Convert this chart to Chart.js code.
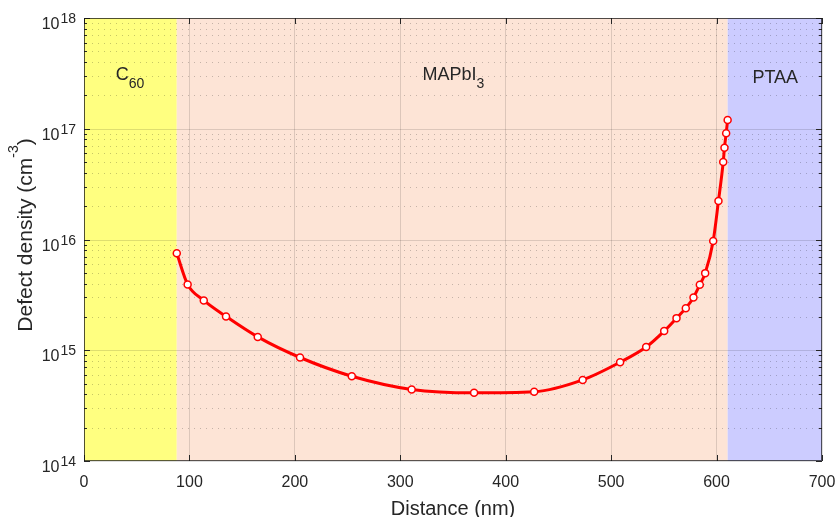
<!DOCTYPE html>
<html lang="en">
<head>
  <meta charset="UTF-8" />
  <title>Defect density profile</title>
  <style>
    body { margin: 0; background: #fff; }
    #wrap { width: 838px; height: 517px; }
  </style>
</head>
<body>
  <div id="wrap"><canvas id="defectChart" width="838" height="517"></canvas></div>

  <script src="https://cdn.jsdelivr.net/npm/chart.js"></script>
  <script>
    // defect profile (distance in nm, density in cm^-3)
    const distance = [88, 98.3, 113.6, 134.7, 164.8, 204.9, 254, 310.8, 370, 427, 473, 508.5,
      533.2, 550.3, 562, 570.8, 578.1, 584.1, 589.2, 596.8, 601.8, 606.3, 607.5, 609.1, 610.5];
    const density = [7.5e15, 3.93e15, 2.82e15, 2.02e15, 1.32e15, 8.6e14, 5.83e14, 4.43e14, 4.13e14, 4.22e14, 5.4e14, 7.8e14,
      1.07e15, 1.49e15, 1.95e15, 2.4e15, 3.0e15, 3.9e15, 4.97e15, 9.7e15, 2.23e16, 5.0e16, 6.74e16, 9.1e16, 1.2e17];

    // layers of the stack
    const layerName = ['C', 'MAPbI', 'PTAA'];
    const layerSub = ['60', '3', ''];
    const layerStart = [0, 88, 610.5];
    const layerEnd = [88, 610.5, 700];
    const layerLabelAt = [30, 321, 634];

    const xTicks = [0, 100, 200, 300, 400, 500, 600, 700];
    const yDecades = [14, 15, 16, 17, 18];

    const layerColors = ['#ffff80', '#fde4d6', '#ccccff'];
    const FONT = "'Liberation Sans', Arial, Helvetica, sans-serif";
    const TXT = '#262626';

    const stackPlugin = {
      id: 'stack',
      beforeDraw(chart) {
        const { ctx, chartArea: a, scales: { x } } = chart;
        ctx.save();
        layerStart.forEach((s, i) => {
          const x0 = x.getPixelForValue(s);
          const x1 = x.getPixelForValue(layerEnd[i]);
          ctx.fillStyle = layerColors[i];
          ctx.fillRect(x0, a.top, x1 - x0, a.bottom - a.top);
        });
        ctx.restore();
      },
      beforeDatasetsDraw(chart) {
        const { ctx, chartArea: a, scales: { x, y } } = chart;
        ctx.save();
        ctx.lineWidth = 1;

        // y grid, solid at decades and dotted in between
        for (let i = 0; i < yDecades.length; i++) {
          const e = yDecades[i];
          const py = Math.round(y.getPixelForValue(Math.pow(10, e))) + 0.5;
          ctx.setLineDash([]);
          ctx.strokeStyle = 'rgba(0,0,0,0.13)';
          ctx.beginPath(); ctx.moveTo(a.left, py); ctx.lineTo(a.right, py); ctx.stroke();
          if (i === yDecades.length - 1) continue;
          for (let m = 2; m <= 9; m++) {
            const my = Math.round(y.getPixelForValue(m * Math.pow(10, e))) + 0.5;
            ctx.setLineDash([1, 5]);
            ctx.strokeStyle = 'rgba(0,0,0,0.22)';
            ctx.beginPath(); ctx.moveTo(a.left + 2, my); ctx.lineTo(a.right, my); ctx.stroke();
            // minor ticks
            ctx.setLineDash([]);
            ctx.strokeStyle = TXT;
            ctx.beginPath();
            ctx.moveTo(a.left, my); ctx.lineTo(a.left + 3, my);
            ctx.moveTo(a.right, my); ctx.lineTo(a.right - 3, my);
            ctx.stroke();
          }
        }

        // major ticks, inward on all sides
        ctx.setLineDash([]);
        ctx.strokeStyle = TXT;
        ctx.beginPath();
        yDecades.forEach(e => {
          const py = Math.round(y.getPixelForValue(Math.pow(10, e))) + 0.5;
          ctx.moveTo(a.left, py); ctx.lineTo(a.left + 6, py);
          ctx.moveTo(a.right, py); ctx.lineTo(a.right - 6, py);
        });
        xTicks.forEach(v => {
          const px = Math.round(x.getPixelForValue(v)) + 0.5;
          ctx.moveTo(px, a.bottom); ctx.lineTo(px, a.bottom - 6);
          ctx.moveTo(px, a.top); ctx.lineTo(px, a.top + 6);
        });
        ctx.stroke();

        // axes box
        ctx.strokeStyle = 'rgba(20,20,20,0.7)';
        ctx.strokeRect(Math.round(a.left) + 0.5, Math.round(a.top) + 0.5,
          Math.round(a.right - a.left) - 1, Math.round(a.bottom - a.top) - 1);
        ctx.restore();
      },
      afterDraw(chart) {
        const { ctx, chartArea: a, scales: { x, y } } = chart;
        ctx.save();
        ctx.fillStyle = TXT;
        ctx.textAlign = 'left';
        ctx.textBaseline = 'alphabetic';

        // y tick labels 10^n
        yDecades.forEach(e => {
          const py = y.getPixelForValue(Math.pow(10, e));
          ctx.font = '14px ' + FONT;
          const w2 = ctx.measureText(String(e)).width;
          ctx.font = '16px ' + FONT;
          const w1 = ctx.measureText('10').width;
          const right = a.left - 8;
          ctx.fillText('10', right - w2 - w1 - 1, py + 11);
          ctx.font = '14px ' + FONT;
          ctx.fillText(String(e), right - w2, py + 5);
        });

        // x axis title
        ctx.font = '20px ' + FONT;
        ctx.textAlign = 'center';
        ctx.fillText('Distance (nm)', (a.left + a.right) / 2, 515);

        // y axis title with superscript
        ctx.save();
        ctx.translate(0, 235);
        ctx.rotate(-Math.PI / 2);
        ctx.textAlign = 'left';
        const p1 = 'Defect density (cm', sup = '-3', p2 = ')';
        ctx.font = '21px ' + FONT;
        const wA = ctx.measureText(p1).width, wC = ctx.measureText(p2).width;
        ctx.font = '14px ' + FONT;
        const wB = ctx.measureText(sup).width;
        let lx = -(wA + wB + wC) / 2;
        ctx.font = '21px ' + FONT;
        ctx.fillText(p1, lx, 32);
        ctx.font = '14px ' + FONT;
        ctx.fillText(sup, lx + wA, 18);
        ctx.font = '21px ' + FONT;
        ctx.fillText(p2, lx + wA + wB, 32);
        ctx.restore();

        // layer labels
        ctx.textAlign = 'left';
        layerName.forEach((n, i) => {
          const px = x.getPixelForValue(layerLabelAt[i]);
          const base = i === 2 ? 83 : 80;
          ctx.font = '18px ' + FONT;
          ctx.fillText(n, px, base);
          if (layerSub[i]) {
            const w = ctx.measureText(n).width;
            ctx.font = '14px ' + FONT;
            ctx.fillText(layerSub[i], px + w, base + 8);
          }
        });
        ctx.restore();
      }
    };

    const ctx = document.getElementById('defectChart').getContext('2d');
    const defectChart = new Chart(ctx, {
      type: 'line',
      data: {
        datasets: [{
          data: distance.map((d, i) => ({ x: d, y: density[i] })),
          borderColor: '#ff0000',
          borderWidth: 3,
          cubicInterpolationMode: 'monotone',
          pointRadius: 3.5,
          pointBorderWidth: 1.5,
          pointBackgroundColor: '#ffffff',
          pointBorderColor: '#ff0000'
        }]
      },
      options: {
        responsive: false,
        animation: false,
        layout: { padding: { top: 18, right: 16, left: 0, bottom: 0 } },
        plugins: { legend: { display: false }, tooltip: { enabled: false } },
        scales: {
          x: {
            type: 'linear',
            min: 0,
            max: 700,
            afterBuildTicks: s => { s.ticks = xTicks.map(v => ({ value: v })); },
            afterFit: s => { s.height = 56; s.paddingLeft = 0; s.paddingRight = 0; },
            ticks: { font: { family: FONT, size: 16 }, color: TXT, padding: 12, maxRotation: 0 },
            grid: { color: 'rgba(0,0,0,0.13)', drawTicks: false },
            border: { display: false }
          },
          y: {
            type: 'logarithmic',
            min: 1e14,
            max: 1e18,
            afterFit: s => { s.width = 84; s.paddingTop = 0; s.paddingBottom = 0; },
            ticks: { display: false },
            grid: { display: false },
            border: { display: false }
          }
        }
      },
      plugins: [stackPlugin]
    });
  </script>
</body>
</html>
